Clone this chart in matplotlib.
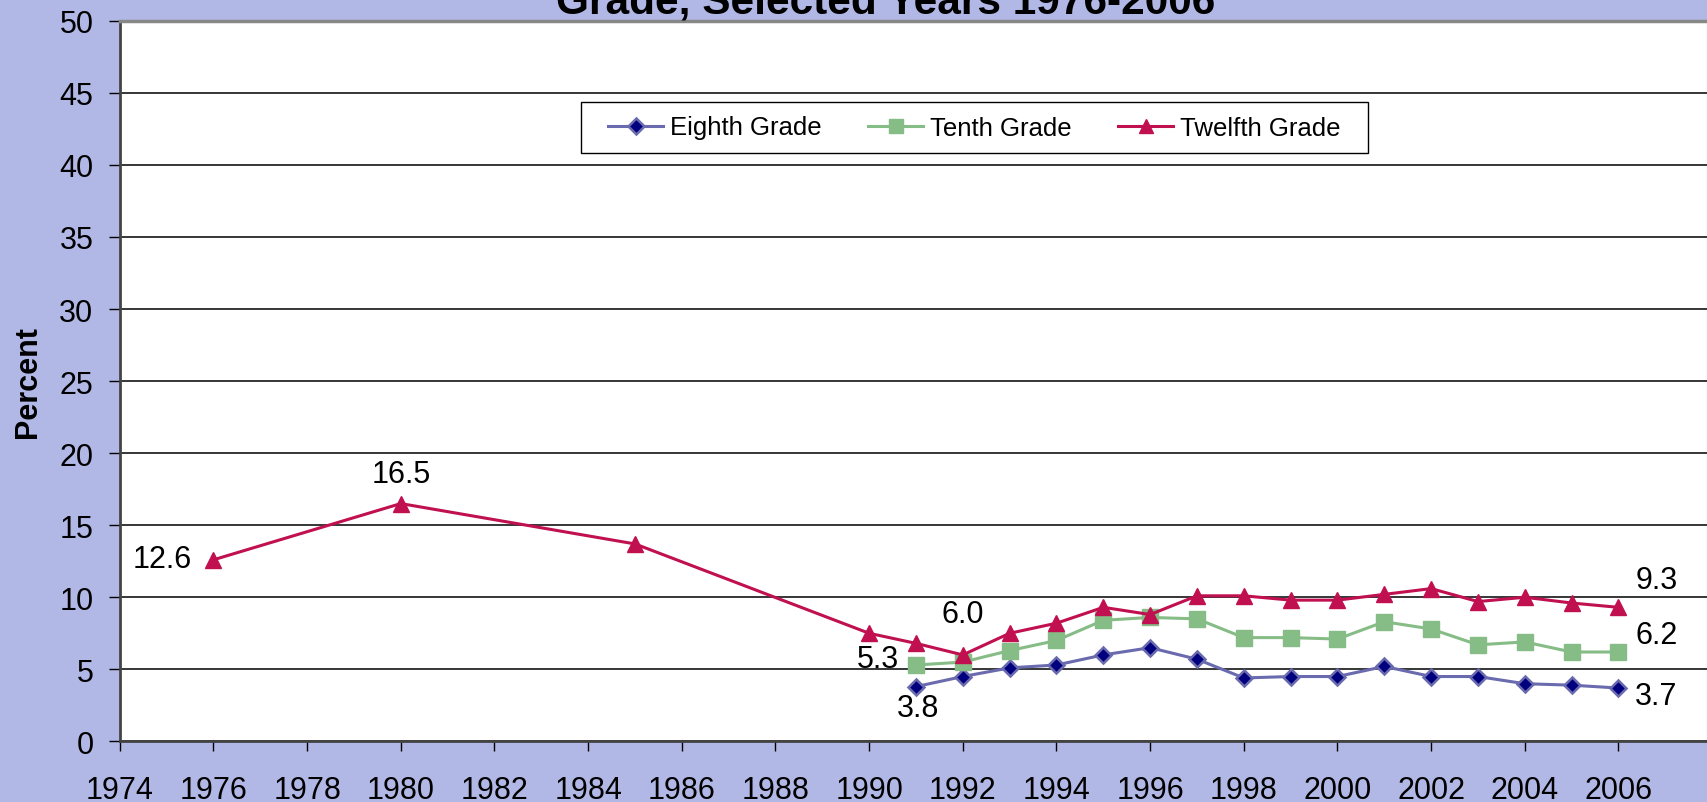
import matplotlib.pyplot as plt
from matplotlib.patches import Rectangle

plt.rcParams['font.family'] = ['Liberation Sans', 'DejaVu Sans']

# values
years_12 = [1976, 1980, 1985, 1990, 1991, 1992, 1993, 1994, 1995, 1996, 1997,
            1998, 1999, 2000, 2001, 2002, 2003, 2004, 2005, 2006]
twelfth = [12.6, 16.5, 13.7, 7.5, 6.8, 6.0, 7.5, 8.2, 9.3, 8.8, 10.1,
           10.1, 9.8, 9.8, 10.2, 10.6, 9.7, 10.0, 9.6, 9.3]

years_8_10 = [1991, 1992, 1993, 1994, 1995, 1996, 1997, 1998, 1999, 2000,
              2001, 2002, 2003, 2004, 2005, 2006]
tenth = [5.3, 5.5, 6.3, 7.0, 8.4, 8.6, 8.5, 7.2, 7.2, 7.1,
         8.3, 7.8, 6.7, 6.9, 6.2, 6.2]
eighth = [3.8, 4.5, 5.1, 5.3, 6.0, 6.5, 5.7, 4.4, 4.5, 4.5,
          5.2, 4.5, 4.5, 4.0, 3.9, 3.7]

xticks = list(range(1974, 2007, 2))
yticks = list(range(0, 51, 5))

BG = '#B2B8E6'
C8_LINE, C8_MARK = '#6A6AAE', '#00007F'
C10 = '#86BC86'
C12 = '#C0104F'

W, H = 1707, 803
fig = plt.figure(figsize=(W / 100, H / 100), dpi=100, facecolor=BG)
ax = fig.add_axes([0.0702, 0.0755, 0.9298, 0.8974])
ax.set_facecolor('white')

ax.plot(years_8_10, eighth, color=C8_LINE, lw=2.2, marker='D', ms=8.5,
        mfc=C8_MARK, mec=C8_LINE, mew=1.8, label='Eighth Grade', zorder=3)
ax.plot(years_8_10, tenth, color=C10, lw=2.2, marker='s', ms=11,
        mfc=C10, mec=C10, label='Tenth Grade', zorder=3)
ax.plot(years_12, twelfth, color=C12, lw=2.2, marker='^', ms=11,
        mfc=C12, mec=C12, label='Twelfth Grade', zorder=4)

ax.set_xlim(1974, 2007.89)
ax.set_ylim(0, 50)
ax.set_xticks(xticks)
ax.set_yticks(yticks)
ax.tick_params(axis='x', direction='out', length=7, width=1, pad=17, labelsize=22)
ax.tick_params(axis='y', direction='out', length=8, width=1, pad=11, labelsize=22)
ax.yaxis.grid(True, color='black', lw=1.1)
ax.set_axisbelow(True)

for side in ['left', 'bottom']:
    ax.spines[side].set_color('#444444')
    ax.spines[side].set_linewidth(2)
ax.spines['top'].set_color('#888888')
ax.spines['top'].set_linewidth(2.5)
ax.spines['right'].set_visible(False)

ax.set_ylabel('Percent', fontsize=22, fontweight='bold', labelpad=12)

# data labels
lab = dict(textcoords='offset pixels', fontsize=22, va='center')
ax.annotate('12.6', (years_12[0], twelfth[0]), xytext=(-22, 1), ha='right', **lab)
ax.annotate('16.5', (years_12[1], twelfth[1]), xytext=(0, 30), ha='center', **lab)
ax.annotate('6.0', (years_12[5], twelfth[5]), xytext=(0, 41), ha='center', **lab)
ax.annotate('5.3', (years_8_10[0], tenth[0]), xytext=(-17, 6), ha='right', **lab)
ax.annotate('3.8', (years_8_10[0], eighth[0]), xytext=(2, -21), ha='center', **lab)
ax.annotate('9.3', (years_12[-1], twelfth[-1]), xytext=(38, 27), ha='center', **lab)
ax.annotate('6.2', (years_8_10[-1], tenth[-1]), xytext=(38, 17), ha='center', **lab)
ax.annotate('3.7', (years_8_10[-1], eighth[-1]), xytext=(38, -8), ha='center', **lab)

# legend box drawn by hand (wider side padding than matplotlib allows)
x0, x1, y0, y1 = 581, 1368, 103, 154
box = Rectangle((x0 / W, 1 - y1 / H), (x1 - x0) / W, (y1 - y0) / H,
                transform=fig.transFigure, facecolor='white',
                edgecolor='black', lw=1, zorder=5, clip_on=False)
ax.add_patch(box)
leg = ax.legend(loc='center', bbox_to_anchor=((x0 + x1) / 2 / W, 1 - (y0 + y1) / 2 / H),
                bbox_transform=fig.transFigure, ncol=3, fontsize=18.5,
                frameon=False, handlelength=2.15, handletextpad=0.27,
                columnspacing=1.8, borderpad=0.2, markerscale=0.9)
leg.set_zorder(6)

# title is cut off by the top edge of the picture
fig.text(0.519, 1 - 13 / H, 'Grade, Selected Years 1976-2006', ha='center',
         va='baseline', fontsize=30.5, fontweight='bold')

fig.savefig('out.png', dpi=100, facecolor=BG)
